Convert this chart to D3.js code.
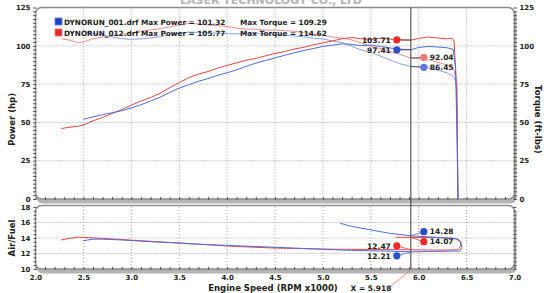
<!DOCTYPE html>
<html>
<head>
<meta charset="utf-8">
<script src="https://cdn.jsdelivr.net/npm/d3@7"></script>
<style>
  body { margin: 0; background: #fff; }
  svg { display: block; }
  text { font-family: "DejaVu Sans", sans-serif; font-weight: bold; }
</style>
</head>
<body>
<div class="container"></div>
<script>
// run 001 (blue) and run 012 (red)
const runNames = ["DYNORUN_001.drf", "DYNORUN_012.drf"];
const maxPower = [101.32, 105.77];
const maxTorque = [109.29, 114.62];

const rpmRed = [2.27, 2.35, 2.45, 2.5, 2.6, 2.7, 2.8, 2.9, 3.0, 3.1, 3.2, 3.3, 3.4, 3.5, 3.6, 3.7, 3.8, 3.9, 4.0,
  4.1, 4.2, 4.3, 4.4, 4.5, 4.6, 4.7, 4.8, 4.9, 5.0, 5.1, 5.2, 5.3, 5.4, 5.5, 5.6, 5.7, 5.8, 5.918, 6.0, 6.1,
  6.2, 6.3, 6.35, 6.37, 6.39, 6.4, 6.405, 6.41];
const powerRed = [46.0, 46.8, 47.6, 48.3, 51.0, 53.3, 55.8, 58.4, 61.2, 63.9, 66.2, 69.0, 72.6, 76.0, 79.2, 81.5,
  83.2, 85.4, 87.2, 88.9, 90.6, 91.8, 93.4, 95.0, 96.2, 97.9, 99.0, 100.6, 101.9, 103.2, 104.6, 105.4, 104.6,
  104.1, 104.9, 104.3, 103.9, 103.71, 104.8, 105.77, 105.0, 104.6, 104.9, 103.0, 78.0, 60.0, 25.0, 0];
const torqueRed = [104.5, 103.8, 102.0, 102.5, 104.5, 105.8, 106.6, 107.5, 108.2, 109.3, 110.4, 111.2, 112.4,
  113.6, 114.62, 114.3, 113.6, 113.2, 112.5, 111.6, 110.8, 110.9, 110.2, 110.3, 109.9, 109.5, 108.6, 107.6,
  106.9, 105.7, 105.1, 103.9, 101.8, 99.6, 98.2, 96.3, 94.4, 92.04, 91.6, 90.9, 89.2, 87.4, 86.5, 84.0, 78.0,
  76.0, 30.0, 0];

const rpmBlue = [2.5, 2.6, 2.7, 2.8, 2.9, 3.0, 3.1, 3.2, 3.3, 3.4, 3.5, 3.6, 3.7, 3.8, 3.9, 4.0, 4.1, 4.2, 4.3,
  4.4, 4.5, 4.6, 4.7, 4.8, 4.9, 5.0, 5.1, 5.2, 5.3, 5.4, 5.5, 5.6, 5.7, 5.8, 5.918, 6.0, 6.1, 6.2, 6.3, 6.36,
  6.385, 6.4, 6.41];
const powerBlue = [52.0, 53.6, 55.1, 56.3, 57.6, 59.4, 61.5, 63.9, 66.4, 69.5, 72.4, 74.6, 76.8, 78.6, 80.7,
  82.4, 84.3, 86.6, 88.7, 90.4, 92.1, 93.8, 95.4, 96.9, 98.2, 99.6, 100.4, 101.32, 100.9, 100.1, 100.5, 99.6,
  98.6, 97.8, 97.41, 98.9, 99.6, 99.2, 98.7, 97.6, 86.0, 40.0, 0];
const torqueBlue = [109.29, 108.1, 107.0, 105.8, 104.6, 104.2, 104.5, 105.1, 105.9, 107.2, 108.4, 108.9, 108.8,
  108.5, 108.3, 107.9, 107.8, 108.1, 108.0, 107.7, 107.3, 106.9, 106.4, 105.8, 105.0, 104.4, 103.2, 102.1,
  99.8, 97.2, 95.7, 93.3, 90.8, 88.4, 86.45, 86.4, 85.6, 84.1, 82.2, 80.0, 77.0, 70.0, 0];

// air/fuel traces in sweep order (they loop back at the end of the run)
const afrRpmRed = [2.27, 2.35, 2.45, 2.55, 2.7, 2.9, 3.1, 3.3, 3.5, 3.7, 3.9, 4.1, 4.3, 4.5, 4.7, 4.9, 5.1,
  5.3, 5.5, 5.7, 5.918, 6.1, 6.3, 6.41, 6.44, 6.43, 6.38, 6.2, 6.0, 5.918, 5.76];
const afrRed = [13.75, 13.95, 14.1, 14.05, 13.95, 13.8, 13.65, 13.5, 13.35, 13.2, 13.05, 12.9, 12.8, 12.7,
  12.65, 12.6, 12.55, 12.55, 12.5, 12.5, 12.47, 12.45, 12.45, 12.5, 13.0, 13.6, 13.95, 14.05, 14.07, 14.07, 14.1];
const afrRpmBlue = [2.5, 2.6, 2.7, 2.9, 3.1, 3.3, 3.5, 3.7, 3.9, 4.1, 4.3, 4.5, 4.7, 4.9, 5.1, 5.3, 5.5, 5.7,
  5.918, 6.1, 6.3, 6.43, 6.45, 6.44, 6.41, 6.3, 6.1, 5.918, 5.7, 5.5, 5.3, 5.18];
const afrBlue = [13.65, 13.85, 13.85, 13.75, 13.6, 13.45, 13.35, 13.2, 13.1, 13.0, 12.9, 12.8, 12.7, 12.6,
  12.5, 12.4, 12.35, 12.3, 12.21, 12.25, 12.3, 12.3, 12.8, 13.5, 13.85, 14.0, 14.15, 14.28, 14.6, 15.05, 15.5, 15.9];

const cursorRpm = 5.918;
const cursorPower = [97.41, 103.71];
const cursorTorque = [86.45, 92.04];
const cursorAfrLow = [12.21, 12.47];
const cursorAfrHigh = [14.28, 14.07];

const powerTicks = [0, 25, 50, 75, 100, 125];
const afrTicks = [10, 12, 14, 16, 18];
const rpmTicks = [2.0, 2.5, 3.0, 3.5, 4.0, 4.5, 5.0, 5.5, 6.0, 6.5, 7.0];

const width = 544;
const height = 293;

const colors = {
  powerBlue: "#4f6cdc", torqueBlue: "#8d9fec",
  powerRed: "#ec4444", torqueRed: "#f28d8d",
  dotBlue: ["#2a4fd0", "#5b78e4"], dotRed: ["#ee2a2a", "#f27a7a"]
};

const svg = d3.select(".container").append("svg")
  .attr("width", width)
  .attr("height", height);

const x = d3.scaleLinear().domain([2, 7]).range([35.5, 514.5]);
const yTop = d3.scaleLinear().domain([0, 125]).range([199, 7.5]);
const yAfr = d3.scaleLinear().domain([10, 18]).range([269, 207]);

// faint header of the printout, cut off at the top
svg.append("text")
  .attr("x", 271).attr("y", 4)
  .attr("text-anchor", "middle")
  .attr("font-size", 11)
  .attr("fill", "#b4b4b4")
  .text("LASER TECHNOLOGY CO., LTD");

// panel frames
const panels = [
  { y0: yTop.range()[1], y1: yTop.range()[0] },
  { y0: yAfr.range()[1] - 1.5, y1: yAfr.range()[0] }
];
panels.forEach(p => {
  svg.append("rect")
    .attr("x", x.range()[0] + 1).attr("y", p.y0 + 2)
    .attr("width", x.range()[1] - x.range()[0] + 1).attr("height", p.y1 - p.y0 + 2.5)
    .attr("rx", 6)
    .attr("fill", "#b4b4b4");
  svg.append("rect")
    .attr("x", x.range()[0]).attr("y", p.y0)
    .attr("width", x.range()[1] - x.range()[0]).attr("height", p.y1 - p.y0)
    .attr("rx", 6)
    .attr("fill", "#fff")
    .attr("stroke", "#8c8c8c")
    .attr("stroke-width", 1.5);
});

// grid
const gridX = rpmTicks.filter(d => d > 2 && d < 7);
svg.append("g").selectAll("line.gt")
  .data(gridX).enter().append("line")
  .attr("x1", d => x(d)).attr("x2", d => x(d))
  .attr("y1", yTop.range()[1]).attr("y2", yTop.range()[0])
  .attr("stroke", "#a0a0a0").attr("stroke-dasharray", "1,2");
svg.append("g").selectAll("line.gb")
  .data(gridX).enter().append("line")
  .attr("x1", d => x(d)).attr("x2", d => x(d))
  .attr("y1", yAfr.range()[1]).attr("y2", yAfr.range()[0])
  .attr("stroke", "#a0a0a0").attr("stroke-dasharray", "1,2");
svg.append("g").selectAll("line")
  .data(powerTicks.filter(d => d > 0 && d < 125)).enter().append("line")
  .attr("x1", x.range()[0]).attr("x2", x.range()[1])
  .attr("y1", d => yTop(d)).attr("y2", d => yTop(d))
  .attr("stroke", "#a0a0a0").attr("stroke-dasharray", "1,2");
svg.append("g").selectAll("line")
  .data(afrTicks.filter(d => d > 10 && d < 18)).enter().append("line")
  .attr("x1", x.range()[0]).attr("x2", x.range()[1])
  .attr("y1", d => yAfr(d)).attr("y2", d => yAfr(d))
  .attr("stroke", "#a0a0a0").attr("stroke-dasharray", "1,2");

// axes
function styleAxis(g, size) {
  g.select(".domain").remove();
  g.selectAll("text").attr("font-size", size).attr("fill", "#222")
    .attr("font-family", "DejaVu Sans").attr("font-weight", "bold");
  g.selectAll("line").attr("stroke", "#555");
}
const minorTop = d3.range(0, 125.01, 2.5);
const minorAfr = d3.range(10, 18.01, 0.5);
const minorRpm = d3.range(2, 7.001, 0.1);

svg.append("g").attr("transform", `translate(${x.range()[0]},0)`)
  .call(d3.axisLeft(yTop).tickValues(powerTicks).tickSize(0).tickPadding(5))
  .call(g => styleAxis(g, 7));
svg.append("g").attr("transform", `translate(${x.range()[0] + 1},0)`)
  .call(d3.axisLeft(yTop).tickValues(minorTop).tickFormat("").tickSize(3.5))
  .call(g => styleAxis(g, 7));
svg.append("g").attr("transform", `translate(${x.range()[1]},0)`)
  .call(d3.axisRight(yTop).tickValues(powerTicks).tickSize(0).tickPadding(5))
  .call(g => styleAxis(g, 7));
svg.append("g").attr("transform", `translate(${x.range()[1] - 1},0)`)
  .call(d3.axisRight(yTop).tickValues(minorTop).tickFormat("").tickSize(3.5))
  .call(g => styleAxis(g, 7));
svg.append("g").attr("transform", `translate(${x.range()[0]},0)`)
  .call(d3.axisLeft(yAfr).tickValues(afrTicks).tickSize(0).tickPadding(5))
  .call(g => styleAxis(g, 7));
svg.append("g").attr("transform", `translate(${x.range()[0] + 1},0)`)
  .call(d3.axisLeft(yAfr).tickValues(minorAfr).tickFormat("").tickSize(3))
  .call(g => styleAxis(g, 7));
svg.append("g").attr("transform", `translate(${x.range()[1] - 1},0)`)
  .call(d3.axisRight(yAfr).tickValues(minorAfr).tickFormat("").tickSize(3))
  .call(g => styleAxis(g, 7));
svg.append("g").attr("transform", `translate(0,${yTop.range()[0] + 1})`)
  .call(d3.axisTop(x).tickValues(minorRpm).tickFormat("").tickSize(3))
  .call(g => styleAxis(g, 7));
svg.append("g").attr("transform", `translate(0,${yAfr.range()[0] + 1})`)
  .call(d3.axisTop(x).tickValues(minorRpm).tickFormat("").tickSize(3))
  .call(g => styleAxis(g, 7));
svg.append("g").attr("transform", `translate(0,${yAfr.range()[0]})`)
  .call(d3.axisBottom(x).tickValues(rpmTicks).tickFormat(d3.format(".1f")).tickSize(0).tickPadding(6))
  .call(g => styleAxis(g, 7));

// axis titles
svg.append("text")
  .attr("transform", `translate(15,${yTop(52)}) rotate(-90)`)
  .attr("text-anchor", "middle").attr("font-size", 8.5).attr("fill", "#222")
  .text("Power (hp)");
svg.append("text")
  .attr("transform", `translate(535,${yTop(52)}) rotate(90)`)
  .attr("text-anchor", "middle").attr("font-size", 8.5).attr("fill", "#222")
  .text("Torque (ft-lbs)");
svg.append("text")
  .attr("transform", `translate(15,${yAfr(14)}) rotate(-90)`)
  .attr("text-anchor", "middle").attr("font-size", 8.5).attr("fill", "#222")
  .text("Air/Fuel");
svg.append("text")
  .attr("x", 273).attr("y", 291)
  .attr("text-anchor", "middle").attr("font-size", 8.5).attr("fill", "#222")
  .text("Engine Speed (RPM x1000)");

// curves
const lineTop = d3.line().x(d => x(d[0])).y(d => yTop(d[1]));
const lineAfr = d3.line().x(d => x(d[0])).y(d => yAfr(d[1]));
const series = [
  { rpm: rpmRed, vals: torqueRed, color: colors.torqueRed, line: lineTop },
  { rpm: rpmBlue, vals: torqueBlue, color: colors.torqueBlue, line: lineTop },
  { rpm: rpmRed, vals: powerRed, color: colors.powerRed, line: lineTop },
  { rpm: rpmBlue, vals: powerBlue, color: colors.powerBlue, line: lineTop },
  { rpm: afrRpmRed, vals: afrRed, color: colors.powerRed, line: lineAfr },
  { rpm: afrRpmBlue, vals: afrBlue, color: colors.powerBlue, line: lineAfr }
];
series.forEach(s => {
  svg.append("path")
    .datum(d3.zip(s.rpm, s.vals))
    .attr("fill", "none")
    .attr("stroke", s.color)
    .attr("stroke-width", 1)
    .attr("d", s.line);
});

// legend
const legendColors = [["#1f3fc4", "#5a78e6"], ["#e02828", "#f47878"]];
runNames.forEach((name, i) => {
  const ly = 18 + i * 11;
  svg.append("rect")
    .attr("x", 55).attr("y", ly).attr("width", 7).attr("height", 7)
    .attr("fill", legendColors[i][0]).attr("stroke", legendColors[i][1]).attr("stroke-width", 0.8);
  svg.append("text")
    .attr("x", 64).attr("y", ly + 6.5)
    .attr("font-size", 7.3).attr("fill", "#222")
    .text(`${name} Max Power = ${maxPower[i].toFixed(2)}`);
  svg.append("text")
    .attr("x", 240).attr("y", ly + 6.5)
    .attr("font-size", 7.3).attr("fill", "#222")
    .text(`Max Torque = ${maxTorque[i].toFixed(2)}`);
});

// cursor
const cx = x(cursorRpm);
svg.append("line")
  .attr("x1", cx).attr("x2", cx)
  .attr("y1", yTop.range()[1]).attr("y2", yAfr.range()[0])
  .attr("stroke", "#3a3a3a").attr("stroke-width", 1);
svg.append("line")
  .attr("x1", cx).attr("y1", yAfr.range()[0] + 1)
  .attr("x2", cx - 20).attr("y2", 286)
  .attr("stroke", "#f07060").attr("stroke-width", 0.8);
svg.append("text")
  .attr("x", 371).attr("y", 291)
  .attr("text-anchor", "middle").attr("font-size", 7.5).attr("fill", "#222")
  .text(`X = ${cursorRpm.toFixed(3)}`);

// keep two value tags at least `gap` px apart
function spread(ys, gap) {
  const [a, b] = ys;
  if (Math.abs(a - b) >= gap) return ys;
  const mid = (a + b) / 2;
  return a < b ? [mid - gap / 2, mid + gap / 2] : [mid + gap / 2, mid - gap / 2];
}

function tags(values, scale, side, fills, lineColor) {
  const trueY = values.map(v => scale(v));
  const shown = spread(trueY, 10);
  const dx = side === "left" ? -14 : 13;
  values.forEach((v, i) => {
    const dotX = cx + dx;
    svg.append("line")
      .attr("x1", dotX).attr("y1", shown[i])
      .attr("x2", cx).attr("y2", trueY[i])
      .attr("stroke", lineColor[i]).attr("stroke-width", 0.8);
    svg.append("circle")
      .attr("cx", dotX).attr("cy", shown[i]).attr("r", 3.6)
      .attr("fill", fills[i]);
    svg.append("text")
      .attr("x", side === "left" ? dotX - 6 : dotX + 6)
      .attr("y", shown[i] + 2.7)
      .attr("text-anchor", side === "left" ? "end" : "start")
      .attr("font-size", 7.5).attr("fill", "#222")
      .text(v.toFixed(2));
  });
}
tags(cursorPower, yTop, "left", [colors.dotBlue[0], colors.dotRed[0]], ["#444", "#444"]);
tags(cursorTorque, yTop, "right", [colors.dotBlue[1], colors.dotRed[1]], ["#444", "#444"]);
tags(cursorAfrLow, yAfr, "left", [colors.dotBlue[0], colors.dotRed[0]], [colors.powerBlue, colors.powerRed]);
tags(cursorAfrHigh, yAfr, "right", [colors.dotBlue[0], colors.dotRed[0]], [colors.powerBlue, colors.powerRed]);
</script>
</body>
</html>
